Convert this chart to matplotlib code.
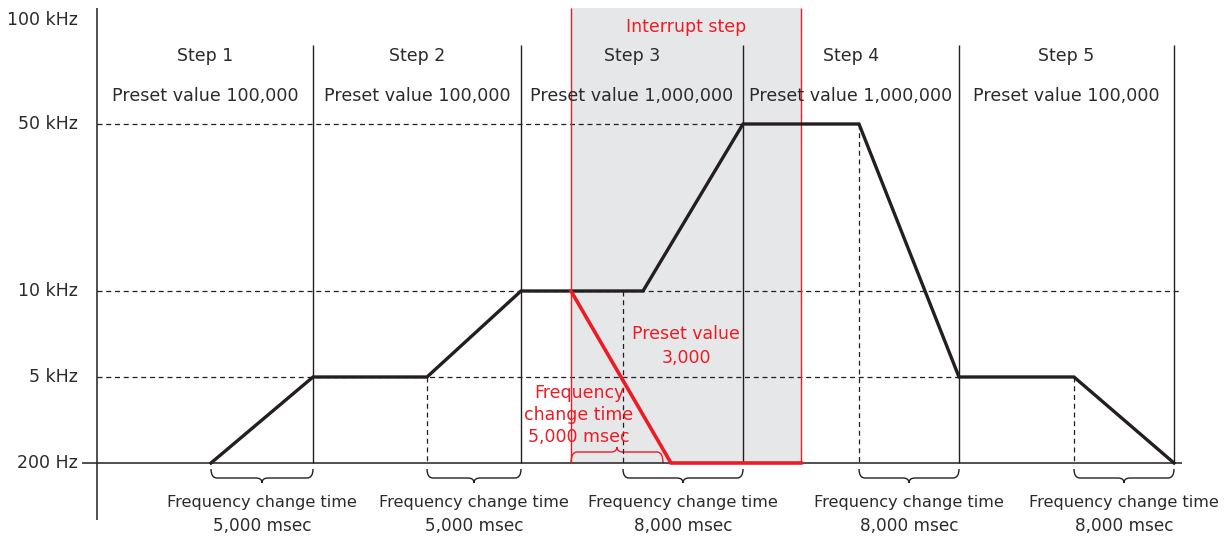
import numpy as np
import matplotlib
matplotlib.use("Agg")
import matplotlib.pyplot as plt
from matplotlib.path import Path
from matplotlib.patches import PathPatch, Rectangle

# frequency levels (axis labels, bottom to top)
level_labels = ['200 Hz', '5 kHz', '10 kHz', '50 kHz', '100 kHz']
level_y = [463, 377, 291, 124, 20]          # vertical position of each level

# step boundaries and texts
step_edges = [97, 313, 521, 743, 959, 1174]
step_names = ['Step 1', 'Step 2', 'Step 3', 'Step 4', 'Step 5']
step_presets = ['Preset value 100,000', 'Preset value 100,000', 'Preset value 1,000,000',
                'Preset value 1,000,000', 'Preset value 100,000']

# normal output curve: time position / level index
curve_x = [211, 313, 427, 521, 643, 743, 859, 959, 1074, 1174]
curve_lv = [0, 1, 1, 2, 2, 3, 3, 1, 1, 0]

# interrupt curve
irq_x = [571, 671, 801]
irq_lv = [2, 0, 0]
irq_span = (571, 801)

# frequency change time spans (below axis)
change_spans = [(211, 313), (427, 521), (623, 743), (859, 959), (1074, 1174)]
change_times = ['5,000 msec', '5,000 msec', '8,000 msec', '8,000 msec', '8,000 msec']

DARK = '#231f20'
TXT = '#2b2b2b'
RED = '#ed1c24'


def ly(lv):
    return np.array(level_y)[np.array(lv)]


def brace(ax, x0, x1, y, h, color, up=False, lw=1.0):
    s = -1 if up else 1
    xm = (x0 + x1) / 2
    r = 6
    verts = [(x0, y), (x0, y + s * h), (x0 + r, y + s * h),
             (xm - r, y + s * h), (xm, y + s * h), (xm, y + s * (h + 5)),
             (xm, y + s * h), (xm + r, y + s * h),
             (x1 - r, y + s * h), (x1, y + s * h), (x1, y)]
    codes = [Path.MOVETO, Path.CURVE3, Path.CURVE3,
             Path.LINETO, Path.CURVE3, Path.CURVE3,
             Path.CURVE3, Path.CURVE3,
             Path.LINETO, Path.CURVE3, Path.CURVE3]
    ax.add_patch(PathPatch(Path(verts, codes), fill=False, edgecolor=color, lw=lw))


plt.rcParams['font.family'] = ['DejaVu Sans']
fig = plt.figure(figsize=(12.26, 5.41), dpi=100)
ax = fig.add_axes([0, 0, 1, 1])
ax.set_xlim(0, 1226)
ax.set_ylim(541, 0)
ax.axis('off')

# interrupt region
ax.add_patch(Rectangle((irq_span[0], 8), irq_span[1] - irq_span[0], level_y[0] - 8,
                       facecolor='#e6e7e9', edgecolor='none', zorder=0))
ax.vlines(irq_span, 8, level_y[0], color=RED, lw=1.0, zorder=3)
ax.text(np.mean(irq_span), 27, 'Interrupt step', color=RED, fontsize=12.5,
        ha='center', va='center')

# axes
ax.vlines(step_edges[0], 8, 520, color=DARK, lw=1.1)
ax.hlines(level_y[0], 82, 1182, color=DARK, lw=1.1)
for lab, y in zip(level_labels, level_y):
    ax.text(78, y, lab, ha='right', va='center', fontsize=12.5, color=TXT)

# dashed guide lines
dash = dict(color=DARK, lw=0.9, ls=(0, (4, 3)))
ax.hlines(level_y[3], step_edges[0], curve_x[5], **dash)
ax.hlines(level_y[2], step_edges[0], 1182, **dash)
ax.hlines(level_y[1], step_edges[0], curve_x[7], **dash)
for x0, x1 in change_spans[1:]:
    top = ly(curve_lv)[curve_x.index(x0)] if x0 in curve_x else level_y[2]
    ax.vlines(x0, top, level_y[0], **dash)

# step boundaries and labels
ax.vlines(step_edges[1:], 45, level_y[0], color=DARK, lw=1.0)
for i in range(5):
    xc = (step_edges[i] + step_edges[i + 1]) / 2
    ax.text(xc, 56, step_names[i], ha='center', va='center', fontsize=12.5, color=TXT)
    ax.text(xc, 96, step_presets[i], ha='center', va='center', fontsize=12.6, color=TXT)

# curves
ax.plot(curve_x, ly(curve_lv), color=DARK, lw=2.4, solid_joinstyle='miter', zorder=4)
ax.plot(irq_x, ly(irq_lv), color=RED, lw=2.6, solid_joinstyle='miter', zorder=5)

# braces and frequency change time labels
for (x0, x1), t in zip(change_spans, change_times):
    brace(ax, x0, x1, level_y[0] + 6, 9, DARK)
    ax.text((x0 + x1) / 2, 502, 'Frequency change time', ha='center', va='center',
            fontsize=11.6, color=TXT)
    ax.text((x0 + x1) / 2, 526, t, ha='center', va='center', fontsize=12.2, color=TXT)

brace(ax, irq_x[0], irq_x[1] - 8, level_y[0], 11, RED, up=True)
ax.text(579, 415, 'Frequency\nchange time\n5,000 msec', ha='center', va='center',
        fontsize=12.5, color=RED, linespacing=1.3)
ax.text(686, 346, 'Preset value\n3,000', ha='center', va='center',
        fontsize=12.5, color=RED, linespacing=1.45)

fig.savefig('out.png', dpi=100)
